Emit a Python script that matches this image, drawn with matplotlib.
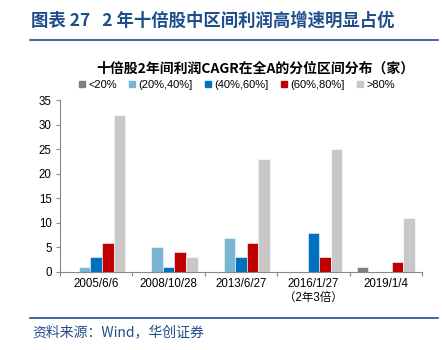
import matplotlib
matplotlib.use("Agg")
import matplotlib.pyplot as plt
import numpy as np
from matplotlib.lines import Line2D

plt.rcParams['font.family'] = ['Liberation Sans', 'Noto Sans CJK SC', 'DejaVu Sans']

categories = ["2005/6/6", "2008/10/28", "2013/6/27", "2016/1/27\n（2年3倍）", "2019/1/4"]
series_names = ["<20%", "(20%,40%]", "(40%,60%]", "(60%,80%]", ">80%"]
s_lt20 = [0, 0, 0, 0, 1]
s_20_40 = [1, 5, 7, 0, 0]
s_40_60 = [3, 1, 3, 8, 0]
s_60_80 = [6, 4, 6, 3, 2]
s_gt80 = [32, 3, 23, 25, 11]
series = [s_lt20, s_20_40, s_40_60, s_60_80, s_gt80]
colors = ["#7F7F7F", "#77B5D0", "#0070C0", "#C00000", "#C8C8C8"]

fig = plt.figure(figsize=(4.42, 3.5), dpi=100)
ax = fig.add_axes([60/442, 78/350, 362/442, 172/350])

x = np.arange(len(categories))
w = 0.16
for i, (vals, c, name) in enumerate(zip(series, colors, series_names)):
    ax.bar(x + (i - 2) * w, vals, width=w, color=c, edgecolor="white", linewidth=0.4, label=name)

ax.set_xlim(-0.5, len(categories) - 0.5)
ax.set_ylim(0, 35)
ax.set_yticks(np.arange(0, 36, 5))
ax.set_xticks(x)
ax.set_xticklabels(categories, fontsize=8.3, linespacing=1.25)
ax.set_xticks(np.arange(-0.5, len(categories), 1), minor=True)
ax.tick_params(axis='x', which='major', length=0, pad=4)
ax.tick_params(axis='x', which='minor', length=3, color="#888888", width=0.8, direction='out')
ax.tick_params(axis='y', labelsize=8.3, length=3, color="#888888", width=0.8, direction='out', pad=3)
for s in ["top", "right"]:
    ax.spines[s].set_visible(False)
for s in ["left", "bottom"]:
    ax.spines[s].set_color("#888888")
    ax.spines[s].set_linewidth(0.8)

# legend
handles = [plt.Rectangle((0, 0), 1, 1, color=c) for c in colors]
fig.legend(handles, series_names, loc="center", bbox_to_anchor=(237/442, 1 - 85/350),
           ncol=5, frameon=False, fontsize=8, handlelength=0.55, handleheight=0.55,
           handletextpad=0.3, columnspacing=1.1)

title_color = "#1F4E8C"
fig.text(31/442, 1 - 21/350, "图表 27   2 年十倍股中区间利润高增速明显占优", fontsize=12.5,
         fontweight="bold", color=title_color, va="center", ha="left",
         family=['Noto Sans CJK SC'])
fig.add_artist(Line2D([30/442, 438/442], [1 - 39.5/350, 1 - 39.5/350], color=title_color, linewidth=1.2))
fig.text(255/442, 1 - 69/350, "十倍股2年间利润CAGR在全A的分位区间分布（家）", fontsize=10,
         fontweight="bold", color="black", va="center", ha="center",
         family=['Noto Sans CJK SC'])
fig.add_artist(Line2D([30/442, 438/442], [1 - 318/350, 1 - 318/350], color=title_color, linewidth=1.2))
fig.text(32/442, 1 - 332/350, "资料来源：Wind，华创证券", fontsize=10, style="italic",
         color=title_color, va="center", ha="left", family=['Noto Sans CJK SC'])

fig.savefig("out.png", dpi=100)
